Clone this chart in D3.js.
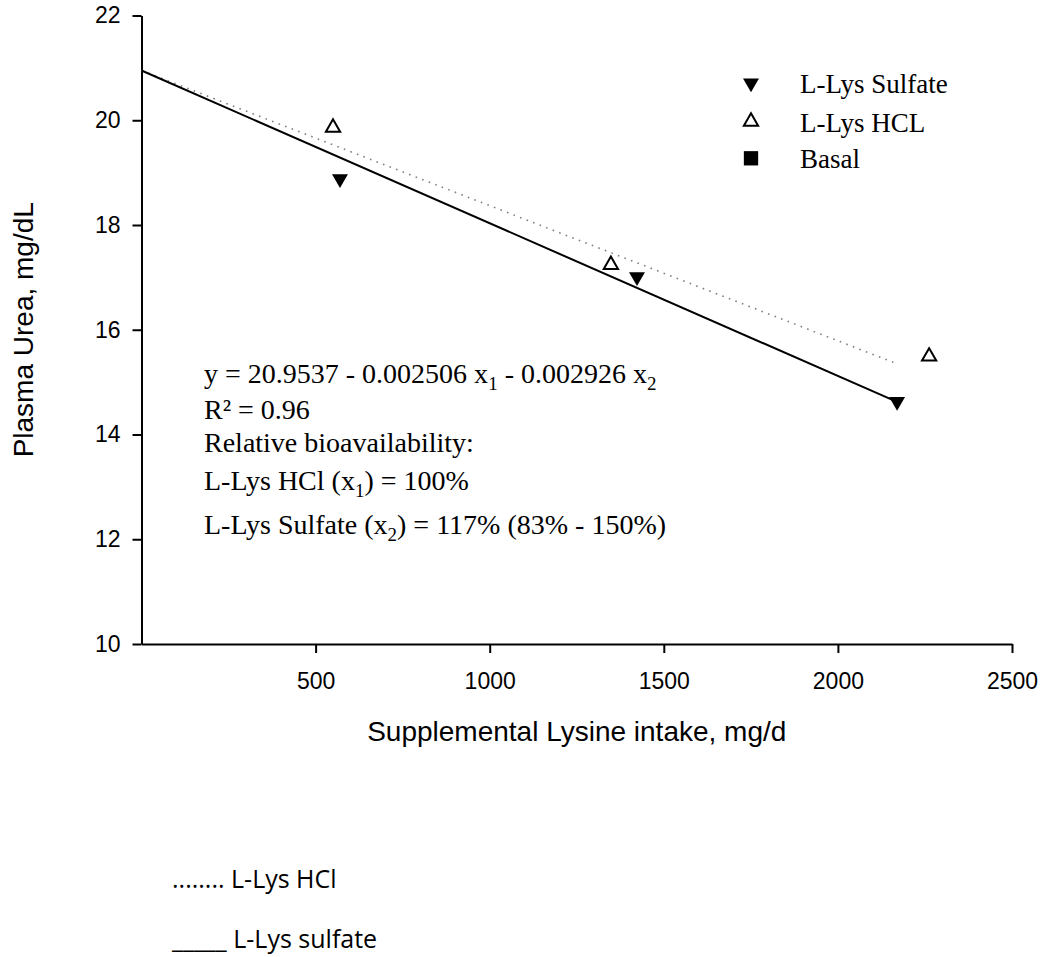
<!DOCTYPE html>
<html>
<head>
<meta charset="utf-8">
<script src="https://cdn.jsdelivr.net/npm/d3@7"></script>
<style>
  html, body { margin: 0; padding: 0; background: #fff; }
  svg { display: block; }
</style>
</head>
<body>
<svg id="chart" width="1044" height="957"></svg>
<script>
// ---------- data ----------
const xTicks = [500, 1000, 1500, 2000, 2500];
const yTicks = [10, 12, 14, 16, 18, 20, 22];

const sulfateX = [570, 1423, 2170];
const sulfateY = [18.88, 17.01, 14.63];

const hclX = [550, 1348, 2262];
const hclY = [19.86, 17.24, 15.49];

const basalX = [];
const basalY = [];

// fitted lines (endpoints)
const hclFitX = [0, 2170];
const hclFitY = [20.95, 15.35];
const sulfateFitX = [0, 2160];
const sulfateFitY = [20.95, 14.65];

const legendLabels = ["L-Lys Sulfate", "L-Lys HCL", "Basal"];

const xTitle = "Supplemental Lysine intake, mg/d";
const yTitle = "Plasma Urea, mg/dL";

// ---------- layout ----------
const svg = d3.select("#chart");
const x = d3.scaleLinear().domain([0, 2500]).range([141.5, 1012]);
const y = d3.scaleLinear().domain([10, 22]).range([644, 15.5]);

// axes
const xAxis = d3.axisBottom(x).tickValues(xTicks).tickSize(9).tickSizeOuter(0).tickPadding(20).tickFormat(d3.format("d"));
const yAxis = d3.axisLeft(y).tickValues(yTicks).tickSize(9).tickSizeOuter(0).tickPadding(12).tickFormat(d3.format("d"));

const gx = svg.append("g").attr("transform", `translate(0,${y(10)})`).call(xAxis);
const gy = svg.append("g").attr("transform", `translate(${x(0)},0)`).call(yAxis);

[gx, gy].forEach(g => {
  g.select(".domain").attr("stroke", "#000").attr("stroke-width", 2);
  g.selectAll(".tick line").attr("stroke", "#000").attr("stroke-width", 2);
  g.selectAll(".tick text")
    .attr("fill", "#000")
    .style("font-family", "Arial, 'Liberation Sans', sans-serif")
    .style("font-size", "23px");
});

// axis titles
svg.append("text")
  .attr("x", (x(0) + x(2500)) / 2)
  .attr("y", 741)
  .attr("text-anchor", "middle")
  .style("font-family", "Arial, 'Liberation Sans', sans-serif")
  .style("font-size", "28px")
  .text(xTitle);

svg.append("text")
  .attr("transform", `translate(33,${(y(10) + y(22)) / 2}) rotate(-90)`)
  .attr("text-anchor", "middle")
  .style("font-family", "Arial, 'Liberation Sans', sans-serif")
  .style("font-size", "28px")
  .text(yTitle);

// fitted lines
const line = d3.line().x(d => x(d[0])).y(d => y(d[1]));
svg.append("path")
  .datum(hclFitX.map((v, i) => [v, hclFitY[i]]))
  .attr("d", line)
  .attr("fill", "none")
  .attr("stroke", "#808080")
  .attr("stroke-width", 1.6)
  .attr("stroke-dasharray", "1.6,5.4");

svg.append("path")
  .datum(sulfateFitX.map((v, i) => [v, sulfateFitY[i]]))
  .attr("d", line)
  .attr("fill", "none")
  .attr("stroke", "#000")
  .attr("stroke-width", 2);

// markers
const triFilled = d3.symbol().type(d3.symbolTriangle).size(110);
const triOpen = d3.symbol().type(d3.symbolTriangle).size(88);
const sq = d3.symbol().type(d3.symbolSquare).size(205);

svg.append("g").selectAll("path")
  .data(hclX.map((v, i) => [v, hclY[i]]))
  .join("path")
  .attr("d", triOpen())
  .attr("transform", d => `translate(${x(d[0])},${y(d[1])})`)
  .attr("fill", "#fff")
  .attr("stroke", "#000")
  .attr("stroke-width", 2);

svg.append("g").selectAll("path")
  .data(sulfateX.map((v, i) => [v, sulfateY[i]]))
  .join("path")
  .attr("d", triFilled())
  .attr("transform", d => `translate(${x(d[0])},${y(d[1])}) rotate(180)`)
  .attr("fill", "#000");

svg.append("g").selectAll("path")
  .data(basalX.map((v, i) => [v, basalY[i]]))
  .join("path")
  .attr("d", sq())
  .attr("transform", d => `translate(${x(d[0])},${y(d[1])})`)
  .attr("fill", "#000");

// legend
const legFont = "'Times New Roman', 'Liberation Serif', serif";
const legRows = [
  { sym: "down", my: 83.1, ty: 93 },
  { sym: "up", my: 121.6, ty: 131.5 },
  { sym: "sq", my: 158.3, ty: 168 }
];
const leg = svg.append("g");
legRows.forEach((r, i) => {
  if (r.sym === "down") {
    leg.append("path").attr("d", triFilled()).attr("transform", `translate(751,${r.my}) rotate(180)`).attr("fill", "#000");
  } else if (r.sym === "up") {
    leg.append("path").attr("d", triOpen()).attr("transform", `translate(751,${r.my})`).attr("fill", "#fff").attr("stroke", "#000").attr("stroke-width", 2);
  } else {
    leg.append("path").attr("d", sq()).attr("transform", `translate(751,${r.my})`).attr("fill", "#000");
  }
  leg.append("text")
    .attr("x", 800).attr("y", r.ty)
    .style("font-family", legFont).style("font-size", "27px")
    .text(legendLabels[i]);
});

// equation annotation
const eq = svg.append("g")
  .style("font-family", legFont)
  .style("font-size", "28px");

function addLine(yb, parts) {
  const t = eq.append("text").attr("x", 204).attr("y", yb).attr("xml:space", "preserve");
  parts.forEach(p => {
    if (typeof p === "string") {
      t.append("tspan").attr("y", yb).text(p);
    } else {
      t.append("tspan").attr("y", yb + 7).style("font-size", "19px").text(p.sub);
    }
  });
}
addLine(383, ["y = 20.9537 - 0.002506 x", { sub: "1" }, " - 0.002926 x", { sub: "2" }]);
addLine(419, ["R² = 0.96"]);
addLine(452, ["Relative bioavailability:"]);
addLine(490, ["L-Lys HCl (x", { sub: "1" }, ") = 100%"]);
addLine(534, ["L-Lys Sulfate (x", { sub: "2" }, ") = 117% (83% - 150%)"]);

// bottom notes
const noteFont = "'Open Sans', Lato, sans-serif";
svg.append("text").attr("x", 172).attr("y", 888)
  .style("font-family", noteFont).style("font-size", "25px")
  .text("........ L-Lys HCl");
svg.append("text").attr("x", 172).attr("y", 948)
  .style("font-family", noteFont).style("font-size", "25px")
  .text("_____ L-Lys sulfate");
</script>
</body>
</html>
